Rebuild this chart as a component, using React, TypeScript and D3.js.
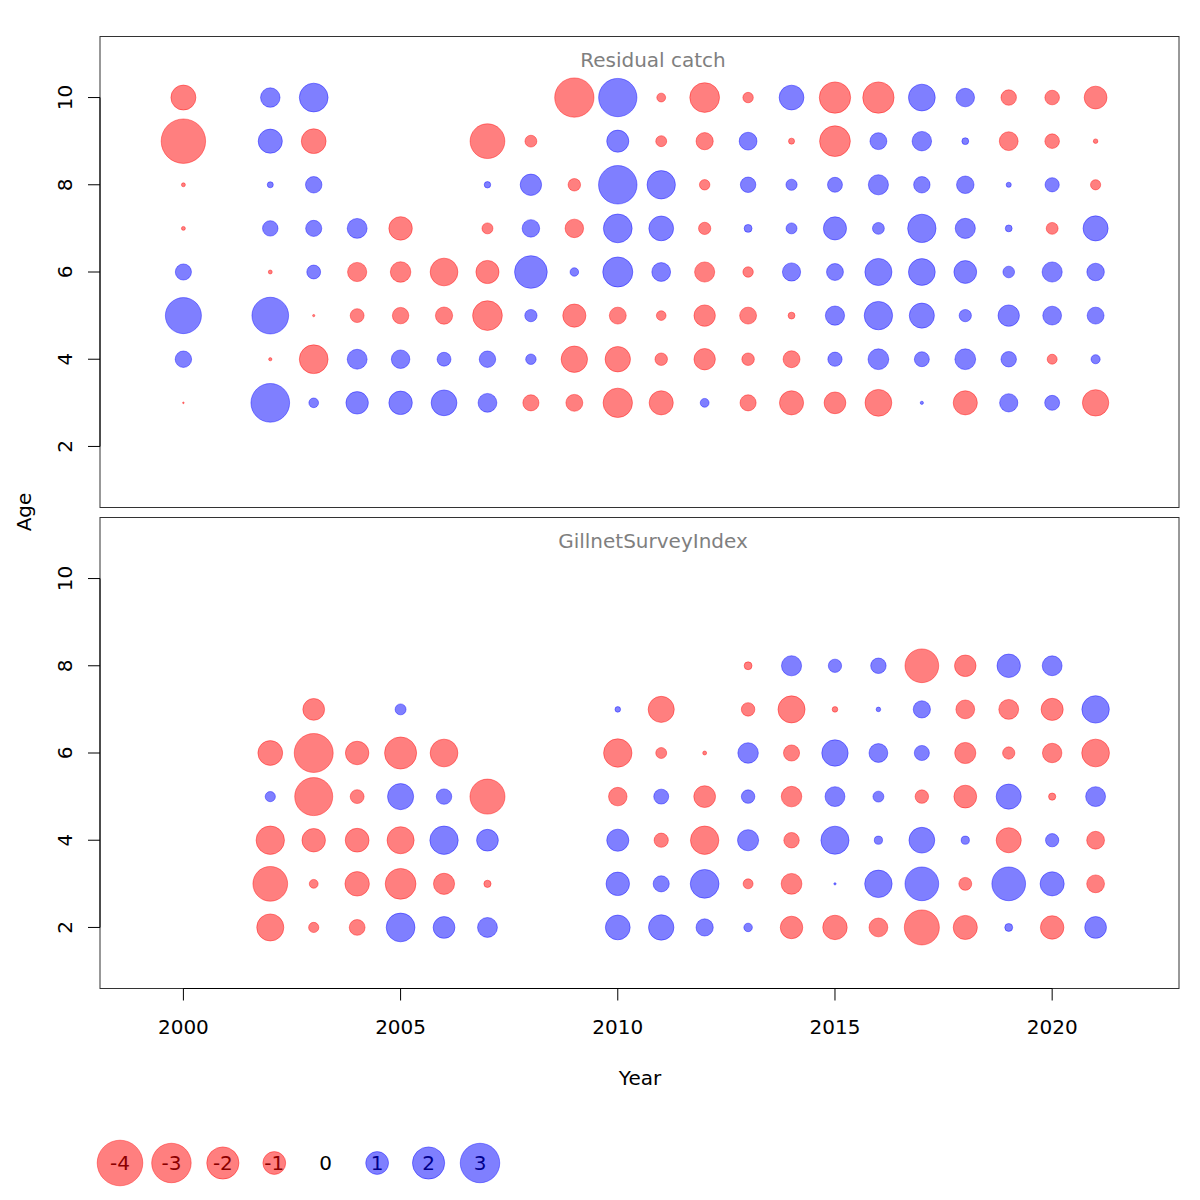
import * as d3 from 'd3';

// catch residuals, ages 3..10 per year
const catchAges = [3, 4, 5, 6, 7, 8, 9, 10];
const catchYears = [2000, 2002, 2003, 2004, 2005, 2006, 2007, 2008, 2009, 2010, 2011, 2012, 2013, 2014, 2015, 2016, 2017, 2018, 2019, 2020, 2021];
const catchResid: (number | null)[][] = [
  [-0.005, 0.52, 2.5, 0.5, -0.03, -0.03, -3.8, -1.2],
  [2.88, -0.02, 2.59, -0.03, 0.46, 0.07, 1.12, 0.73],
  [0.18, -1.59, -0.01, 0.37, 0.5, 0.52, -1.18, 1.59],
  [0.97, 0.76, -0.37, -0.71, 0.76, null, null, null],
  [1.06, 0.66, -0.52, -0.81, -1.06, null, null, null],
  [1.28, 0.37, -0.57, -1.48, null, null, null, null],
  [0.68, 0.52, -1.7, -1.03, -0.23, 0.08, -2.32, null],
  [-0.5, 0.21, 0.29, 2.06, 0.59, 0.88, -0.27, null],
  [-0.55, -1.34, -1.03, 0.14, -0.66, -0.3, null, -2.97],
  [-1.66, -1.24, -0.55, 1.74, 1.59, 2.85, 0.94, 2.82],
  [-1.12, -0.3, -0.18, 0.68, 1.18, 1.55, -0.23, -0.15],
  [0.15, -0.88, -0.88, -0.78, -0.29, -0.21, -0.57, -1.7],
  [-0.5, -0.3, -0.55, -0.21, 0.12, 0.46, 0.61, -0.21],
  [-1.12, -0.55, -0.09, 0.64, 0.23, 0.24, -0.07, 1.18],
  [-0.91, 0.39, 0.71, 0.55, 1.03, 0.43, -1.82, -1.89],
  [-1.38, 0.83, 1.55, 1.41, 0.27, 0.78, 0.55, -1.89],
  [0.02, 0.43, 1.21, 1.38, 1.55, 0.52, 0.73, 1.38],
  [-1.12, 0.83, 0.29, 1.0, 0.78, 0.59, 0.09, 0.66],
  [0.64, 0.46, 0.88, 0.26, 0.09, 0.05, -0.68, -0.46],
  [0.43, -0.19, 0.68, 0.78, -0.27, 0.39, -0.41, -0.41],
  [-1.34, 0.16, 0.55, 0.59, 1.21, -0.2, -0.04, -1.0],
];

// gillnet survey residuals, ages 2..8 per year
const surveyAges = [2, 3, 4, 5, 6, 7, 8];
const surveyYears = [2002, 2003, 2004, 2005, 2006, 2007, 2010, 2011, 2012, 2013, 2014, 2015, 2016, 2017, 2018, 2019, 2020, 2021];
const surveyResid: (number | null)[][] = [
  [-1.41, -2.32, -1.55, 0.2, -1.18, null, null],
  [-0.2, -0.15, -1.06, -2.78, -2.92, -0.91, null],
  [-0.48, -1.15, -1.09, -0.37, -1.06, null, null],
  [1.59, -1.82, -1.41, 1.31, -1.98, 0.23, null],
  [0.91, -0.86, 1.55, 0.46, -1.48, null, null],
  [0.76, -0.1, 0.91, -2.36, null, null, null],
  [1.18, 1.06, 0.94, -0.66, -1.55, 0.06, null],
  [1.24, 0.5, -0.39, 0.43, -0.23, -1.31, null],
  [0.57, 1.59, -1.55, -0.91, -0.03, null, null],
  [0.14, -0.19, 0.86, 0.35, 0.81, -0.35, -0.12],
  [-0.97, -0.83, -0.46, -0.81, -0.5, -1.41, 0.78],
  [-1.15, 0.01, 1.52, 0.76, 1.34, -0.06, 0.34],
  [-0.68, 1.45, 0.13, 0.23, 0.68, 0.04, 0.46],
  [-2.36, 2.19, 1.28, -0.35, 0.44, 0.57, -2.19],
  [-1.12, -0.32, 0.13, -1.0, -0.86, -0.68, -0.89],
  [0.12, 2.19, -1.21, 1.21, -0.29, -0.76, 1.06],
  [-1.06, 1.12, 0.34, -0.1, -0.73, -0.94, 0.76],
  [0.91, -0.61, -0.61, 0.76, -1.48, 1.45, null],
];

const legendValues = [-4, -3, -2, -1, 0, 1, 2, 3];
const yearTicks = [2000, 2005, 2010, 2015, 2020];
const ageTicks = [2, 4, 6, 8, 10];

const FONT = 'DejaVu Sans, sans-serif';
const FS = 20;
const RED = 'rgba(255,0,0,0.5)';
const BLUE = 'rgba(0,0,255,0.5)';

const left = 100;
const right = 1179;

const x = d3.scaleLinear().domain([1998.08, 2022.92]).range([left, right]);
const r = d3.scaleSqrt().domain([0, 4]).range([0, 22.8]);

type Cell = { year: number; age: number; v: number };

function cells(years: number[], ages: number[], vals: (number | null)[][]): Cell[] {
  const out: Cell[] = [];
  years.forEach((yr, i) => {
    ages.forEach((a, j) => {
      const v = vals[i][j];
      if (v !== null) out.push({ year: yr, age: a, v });
    });
  });
  return out;
}

function Panel({ top, bottom, title, data, xAxis }: { top: number; bottom: number; title: string; data: Cell[]; xAxis: boolean }) {
  const y = d3.scaleLinear().domain([0.6, 11.4]).range([bottom, top]);
  return (
    <g>
      <rect x={left} y={top} width={right - left} height={bottom - top} fill="none" stroke="#333" strokeWidth={1} />
      <text x={653} y={top + 30} textAnchor="middle" fontFamily={FONT} fontSize={FS} fill="#7f7f7f">{title}</text>
      {data.map((d, i) => (
        <circle key={i} cx={x(d.year)} cy={y(d.age)} r={r(Math.abs(d.v))}
          fill={d.v < 0 ? RED : BLUE} stroke={d.v < 0 ? RED : BLUE} strokeWidth={0.8} />
      ))}
      <line x1={left} x2={left} y1={y(2)} y2={y(10)} stroke="#000" />
      {ageTicks.map(t => (
        <g key={t}>
          <line x1={left - 12} x2={left} y1={y(t)} y2={y(t)} stroke="#000" />
          <text transform={`translate(72,${y(t)}) rotate(-90)`} textAnchor="middle" fontFamily={FONT} fontSize={FS} fill="#000">{t}</text>
        </g>
      ))}
      {xAxis && (
        <g>
          <line x1={x(2000)} x2={x(2020)} y1={bottom} y2={bottom} stroke="#000" />
          {yearTicks.map(t => (
            <g key={t}>
              <line x1={x(t)} x2={x(t)} y1={bottom} y2={bottom + 12} stroke="#000" />
              <text x={x(t)} y={bottom + 45} textAnchor="middle" fontFamily={FONT} fontSize={FS} fill="#000">{t}</text>
            </g>
          ))}
        </g>
      )}
    </g>
  );
}

export default function App() {
  const catchCells = cells(catchYears, catchAges, catchResid);
  const surveyCells = cells(surveyYears, surveyAges, surveyResid);
  const lx = d3.scalePoint<number>().domain(legendValues).range([120, 480]);
  return (
    <svg width={1200} height={1200} style={{ position: 'absolute', left: 0, top: 0, background: '#fff' }}>
      <Panel top={36.5} bottom={507.5} title="Residual catch" data={catchCells} xAxis={false} />
      <Panel top={517.5} bottom={988.5} title="GillnetSurveyIndex" data={surveyCells} xAxis={true} />
      <text transform="translate(31,512) rotate(-90)" textAnchor="middle" fontFamily={FONT} fontSize={FS}>Age</text>
      <text x={640} y={1085} textAnchor="middle" fontFamily={FONT} fontSize={FS}>Year</text>
      {legendValues.map(v => (
        <g key={v}>
          {v !== 0 && (
            <circle cx={lx(v)} cy={1163} r={r(Math.abs(v))} fill={v < 0 ? RED : BLUE} stroke={v < 0 ? RED : BLUE} strokeWidth={0.8} />
          )}
          <text x={lx(v)} y={1170} textAnchor="middle" fontFamily={FONT} fontSize={FS}
            fill={v < 0 ? '#8b0000' : v > 0 ? '#00008b' : '#000'}>{v}</text>
        </g>
      ))}
    </svg>
  );
}
